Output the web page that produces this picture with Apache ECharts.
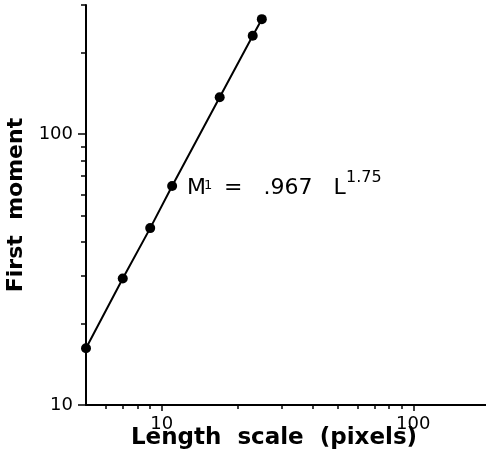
<!DOCTYPE html>
<html>
<head>
<meta charset="utf-8">
<script src="https://cdn.jsdelivr.net/npm/echarts@6/dist/echarts.min.js"></script>
<style>
  html, body { margin: 0; padding: 0; background: #fff; }
  #chart { width: 486px; height: 463px; }
</style>
</head>
<body>
<div id="chart"></div>
<script>
// 数据：长度尺度与一阶矩
const lengthScale = [5, 7, 9, 11, 17, 23, 25]
const firstMoment = [16.2, 29.3, 45, 64.4, 137, 231, 266]
// 刻度（主刻度带标签，次刻度只画短线）
const xMajorTicks = [10, 100]
const xMinorTicks = [6, 7, 8, 9, 20, 30, 40, 50, 60, 70, 80, 90, 200]
const yMajorTicks = [10, 100]
const yMinorTicks = [20, 30, 40, 50, 60, 70, 80, 90, 200, 300]

const font = 'DejaVu Sans'
const myChart = echarts.init(document.querySelector('#chart'))

// 两个重叠的网格：第二个只用来画次刻度
const gridBox = { left: 86, top: 5, right: -3, bottom: 58, outerBoundsMode: 'none' }

// 公式及横轴标题的文字样式
const textStyle = { fontFamily: font, fill: '#000', align: 'left', verticalAlign: 'middle' }

const option = {
  animation: false,
  backgroundColor: '#fff',
  grid: [{ ...gridBox }, { ...gridBox }],
  xAxis: [
    {
      type: 'log',
      gridIndex: 0,
      min: 5,
      max: 200,
      axisLine: { lineStyle: { color: '#000', width: 2 } },
      axisTick: { customValues: xMajorTicks, length: 6, lineStyle: { color: '#000', width: 1.5 } },
      axisLabel: { customValues: xMajorTicks, fontFamily: font, fontSize: 18, color: '#000', margin: 10 },
      splitLine: { show: false },
    },
    {
      type: 'log',
      gridIndex: 1,
      min: 5,
      max: 200,
      axisLine: { show: false },
      axisTick: { customValues: xMinorTicks, length: 4, lineStyle: { color: '#000', width: 1.5 } },
      axisLabel: { show: false },
      splitLine: { show: false },
    },
  ],
  yAxis: [
    {
      type: 'log',
      gridIndex: 0,
      min: 10,
      max: 300,
      name: 'First  moment',
      nameLocation: 'middle',
      nameGap: 50,
      nameRotate: 90,
      nameTextStyle: { fontFamily: font, fontWeight: 'bold', fontSize: 22, color: '#000' },
      axisLine: { lineStyle: { color: '#000', width: 2 } },
      axisTick: { customValues: yMajorTicks, length: 8, lineStyle: { color: '#000', width: 1.5 } },
      axisLabel: { customValues: yMajorTicks, fontFamily: font, fontSize: 18, color: '#000', margin: 13 },
      splitLine: { show: false },
    },
    {
      type: 'log',
      gridIndex: 1,
      min: 10,
      max: 300,
      axisLine: { show: false },
      axisTick: { customValues: yMinorTicks, length: 5, lineStyle: { color: '#000', width: 1.5 } },
      axisLabel: { show: false },
      splitLine: { show: false },
    },
  ],
  graphic: [
    { type: 'text', x: 274, y: 438, style: { ...textStyle, align: 'center', text: 'Length  scale  (pixels)', fontSize: 23, fontWeight: 'bold' } },
    { type: 'text', x: 187, y: 188, style: { ...textStyle, text: 'M', fontSize: 22 } },
    { type: 'text', x: 204, y: 186, style: { ...textStyle, text: '1', fontSize: 13 } },
    { type: 'text', x: 224, y: 188, style: { ...textStyle, text: '=   .967   L', fontSize: 22 } },
    { type: 'text', x: 346, y: 178, style: { ...textStyle, text: '1.75', fontSize: 16 } },
  ],
  series: [
    {
      type: 'line',
      xAxisIndex: 0,
      yAxisIndex: 0,
      data: lengthScale.map((x, i) => [x, firstMoment[i]]),
      symbol: 'circle',
      symbolSize: 10,
      clip: false,
      itemStyle: { color: '#000' },
      lineStyle: { color: '#000', width: 2 },
    },
  ],
}
myChart.setOption(option)
</script>
</body>
</html>
